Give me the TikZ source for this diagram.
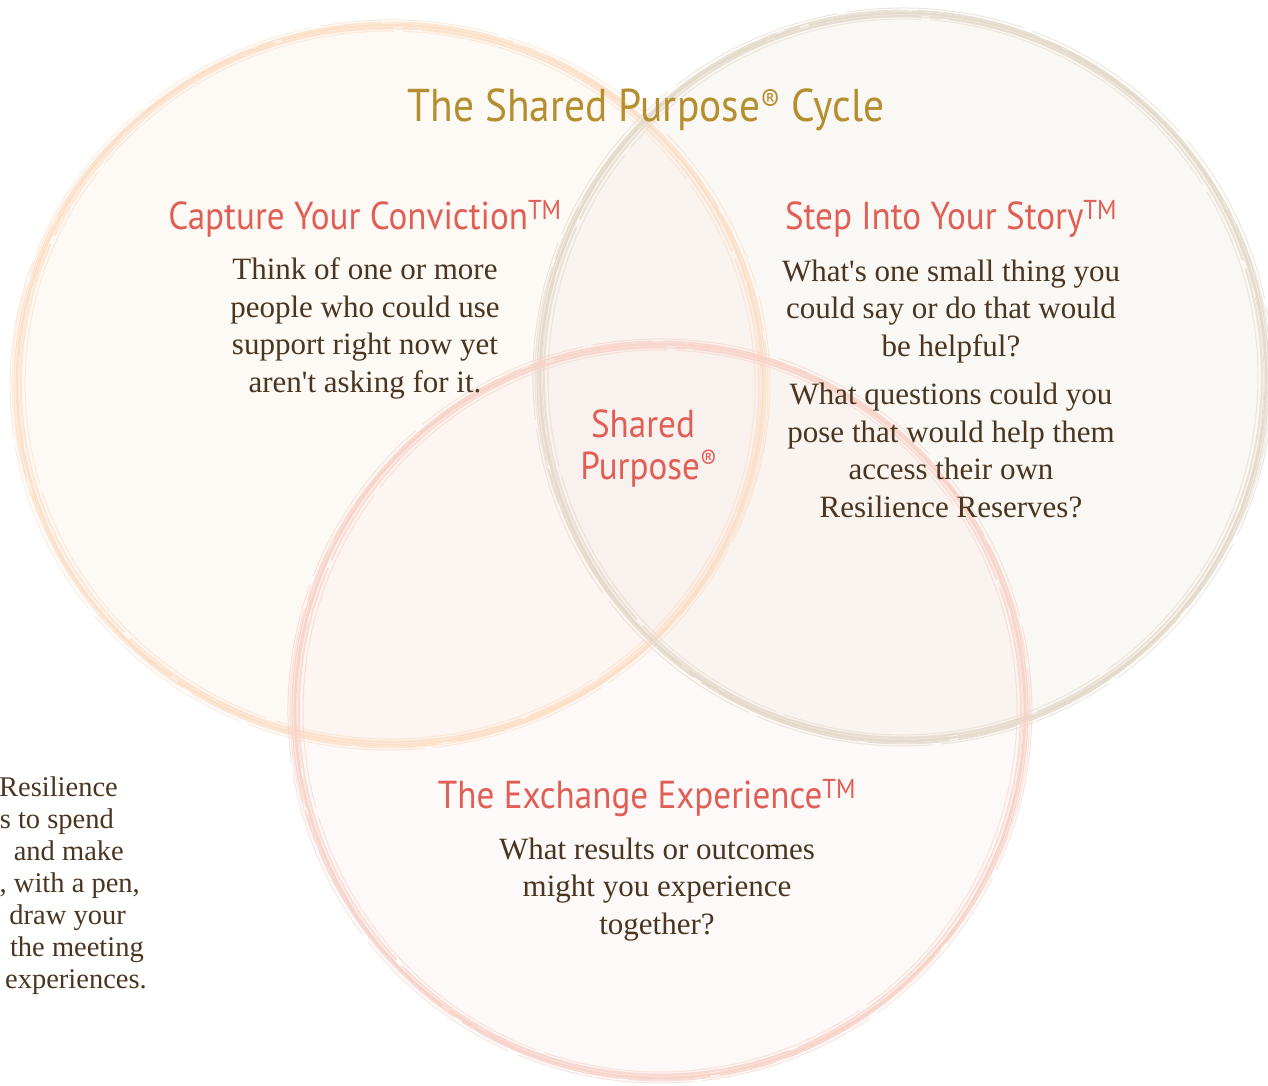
\documentclass[tikz,border=0pt]{standalone}
\usepackage{fontspec}
\setmainfont{Liberation Serif}
\newfontfamily\headfont[FakeStretch=0.9]{PT Sans}
\definecolor{peachline}{HTML}{FCDFC6}
\definecolor{taupeline}{HTML}{E4DACB}
\definecolor{pinkline}{HTML}{F8D3C9}
\definecolor{peachfill}{HTML}{FBF2E8}
\definecolor{taupefill}{HTML}{F3EEE7}
\definecolor{pinkfill}{HTML}{FBEDE9}
\definecolor{titlegold}{HTML}{B58E2E}
\definecolor{headred}{HTML}{E15E55}
\definecolor{bodybrown}{HTML}{4A3520}
% a hand-brushed ring: several slightly offset, rotated ellipses
\newcommand\brushring[4]{%
  \foreach \dx/\dy/\w/\o/\r/\pat in {0/0/2.6/0.9/0/800,
      3/2/1.3/0.8/1.5/260, -4/-3/2.0/0.7/-1.2/420,
      7/5/1.0/0.65/2.5/180, -8/-6/1.1/0.6/-2/330,
      1.5/-1/3.6/0.45/0.6/520, -2/3/0.9/0.75/3/150,
      5/-4/1.5/0.55/-3/240}{%
    \draw[#4, line width=\w pt, opacity=\o,
          dash pattern=on \pat pt off 9pt,
          rotate around={\r:(#1)}]
      (#1) ellipse ({#2+\dx} and {#3+\dy});
  }%
}
\tikzset{
  heading/.style={font=\headfont\fontsize{39}{44}\selectfont, text=headred, anchor=base, inner sep=0pt},
  body/.style={font=\fontsize{31}{37.5}\selectfont, text=bodybrown, align=center, anchor=base, inner sep=0pt},
  sidetext/.style={font=\fontsize{28.5}{32}\selectfont, text=bodybrown, anchor=base east, inner sep=0pt},
}
\begin{document}
\begin{tikzpicture}[x=1pt,y=-1pt]
\useasboundingbox (0,0) rectangle (1268,1086);
\clip (0,0) rectangle (1268,1086);
\fill[white] (0,0) rectangle (1268,1086);

\coordinate (cL) at (390,385);
\coordinate (cR) at (903,377);
\coordinate (cB) at (660,711);

% soft fills
\fill[peachfill, fill opacity=0.4] (cL) ellipse (373 and 360);
\fill[taupefill, fill opacity=0.4] (cR) ellipse (363 and 364);
\fill[pinkfill, fill opacity=0.3] (cB) ellipse (365 and 367);

% brushed outlines
\brushring{cL}{373}{360}{peachline}
\brushring{cR}{363}{364}{taupeline}
\brushring{cB}{365}{367}{pinkline}

% title
\node[font=\headfont\fontsize{46}{52}\selectfont, text=titlegold, anchor=base, inner sep=0pt]
  (title) at (646,122) {The Shared Purpose\textsuperscript{®} Cycle};

% headings
\node[heading] (conviction) at (365,229) {Capture Your Conviction\textsuperscript{TM}};
\node[heading] (story) at (951,229) {Step Into Your Story\textsuperscript{TM}};
\node[heading] (exchange) at (647,808) {The Exchange Experience\textsuperscript{TM}};
\node[heading] (shared) at (643,437) {Shared};
\node[heading] (purpose) at (649,479) {Purpose\textsuperscript{®}};

% questions (anchor base sits on the last line)
\node[body] (convtext) at (365,392) {Think of one or more\\people who could use\\support right now yet\\aren\textquotesingle t asking for it.};
\node[body] (storytext1) at (951,356) {What\textquotesingle s one small thing you\\could say or do that would\\be helpful?};
\node[body] (storytext2) at (951,517) {What questions could you\\pose that would help them\\access their own\\Resilience Reserves?};
\node[body] (exchtext) at (657,934) {What results or outcomes\\might you experience\\together?};

% side paragraph running off the left edge
\node[sidetext] (side1) at (118,796) {Resilience};
\node[sidetext] (side2) at (114,828) {s to spend};
\node[sidetext] (side3) at (124,860) {and make};
\node[sidetext] (side4) at (140,892) {, with a pen,};
\node[sidetext] (side5) at (126,924) {draw your};
\node[sidetext] (side6) at (144,956) {the meeting};
\node[sidetext] (side7) at (147,988) {experiences.};
\end{tikzpicture}
\end{document}
